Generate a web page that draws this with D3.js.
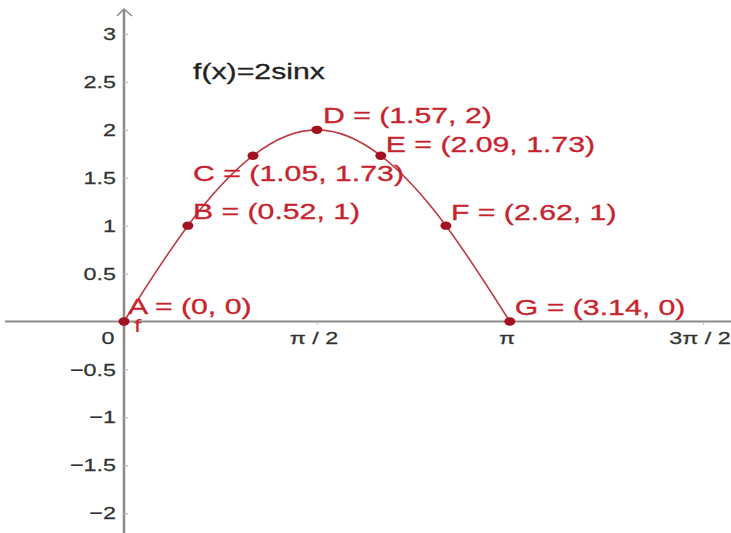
<!DOCTYPE html>
<html>
<head>
<meta charset="utf-8">
<script src="https://cdn.jsdelivr.net/npm/d3@7"></script>
<style>
  html, body { margin: 0; padding: 0; background: #fff; }
  svg { display: block; }
  text { font-family: "Liberation Sans", Arial, sans-serif; }
</style>
</head>
<body>
<script>
// Points on f(x) = 2 sin x
const pointNames = ["A", "B", "C", "D", "E", "F", "G"];
const pointX = [0, 0.52, 1.05, 1.57, 2.09, 2.62, 3.14];
const pointY = [0, 1, 1.73, 2, 1.73, 1, 0];

// Axis ticks
const yTicks = [-2, -1.5, -1, -0.5, 0.5, 1, 1.5, 2, 2.5, 3];
const xTickValues = [Math.PI / 2, Math.PI, 3 * Math.PI / 2];
const xTickLabels = ["π / 2", "π", "3π / 2"];

const functionLabel = "f(x)=2sinx";
const curveName = "f";

// ---- layout ----
const W = 731, H = 533;
const STRETCH = 1.375;          // horizontal text stretch
const axisColor = "#8c8c8c";
const pointColor = "#a3111f";
const labelColor = "#c8222c";
const curveColor = "#bb3c44";

// where each point's label sits relative to the point (px)
const labelOffset = {
  A: [4, -8], B: [5, -7], C: [-60, 25], D: [6, -7],
  E: [5, -4], F: [5, -6], G: [5, -7]
};

const svg = d3.select("body").append("svg")
  .attr("width", W).attr("height", H);

const x = d3.scaleLinear().domain([0, Math.PI]).range([124, 510]);
const y = d3.scaleLinear().domain([0, 3]).range([321.5, 34]);

function stretchedText(sel, px, py) {
  return sel.attr("transform", `translate(${px},${py}) scale(${STRETCH},1)`);
}

// axes lines
svg.append("line")
  .attr("x1", 5).attr("x2", W)
  .attr("y1", y(0)).attr("y2", y(0))
  .attr("stroke", axisColor).attr("stroke-width", 2);
svg.append("line")
  .attr("x1", x(0)).attr("x2", x(0))
  .attr("y1", 9).attr("y2", H)
  .attr("stroke", axisColor).attr("stroke-width", 2.6);
// arrow head on the y axis
svg.append("path")
  .attr("d", `M${x(0) - 7},${16} L${x(0)},${9} L${x(0) + 8},${16}`)
  .attr("fill", "none").attr("stroke", axisColor).attr("stroke-width", 1.6);

// y axis ticks and labels
const yAxis = d3.axisRight(y).tickValues(yTicks).tickSize(4).tickFormat("");
const yg = svg.append("g").attr("transform", `translate(${x(0)},0)`).call(yAxis);
yg.select(".domain").remove();
yg.selectAll(".tick line").attr("stroke", "#bbb").attr("stroke-width", 1.2);

const fmtY = d3.format("");
svg.append("g").selectAll("text")
  .data(yTicks).join("text")
  .each(function (d) { stretchedText(d3.select(this), 116, y(d)); })
  .attr("text-anchor", "end")
  .attr("dy", "0.36em")
  .attr("font-size", 17)
  .attr("fill", "#333").attr("stroke", "#333").attr("stroke-width", 0.25)
  .text(d => fmtY(d));

// origin label
stretchedText(svg.append("text"), 108, y(0) + 16)
  .attr("text-anchor", "middle").attr("dy", "0.36em")
  .attr("font-size", 17).attr("fill", "#333")
  .attr("stroke", "#333").attr("stroke-width", 0.25).text("0");

// x axis ticks and labels
const xAxis = d3.axisBottom(x).tickValues(xTickValues).tickSize(3).tickFormat("");
const xg = svg.append("g").attr("transform", `translate(0,${y(0)})`).call(xAxis);
xg.select(".domain").remove();
xg.selectAll(".tick line").attr("stroke", "#bbb").attr("stroke-width", 1.2);

svg.append("g").selectAll("text")
  .data(xTickValues).join("text")
  .each(function (d) { stretchedText(d3.select(this), x(d) - 3, y(0) + 16); })
  .attr("text-anchor", "middle")
  .attr("dy", "0.36em")
  .attr("font-size", 17)
  .attr("fill", "#333").attr("stroke", "#333").attr("stroke-width", 0.25)
  .text((d, i) => xTickLabels[i]);

// the curve through the points
const pts = pointX.map((v, i) => ({ name: pointNames[i], x: v, y: pointY[i] }));
const line = d3.line().x(d => x(d.x)).y(d => y(d.y)).curve(d3.curveNatural);
svg.append("path")
  .datum(pts)
  .attr("d", line)
  .attr("fill", "none")
  .attr("stroke", curveColor)
  .attr("stroke-width", 1.6);

// point markers
svg.append("g").selectAll("ellipse")
  .data(pts).join("ellipse")
  .attr("cx", d => x(d.x)).attr("cy", d => y(d.y))
  .attr("rx", 5.5).attr("ry", 4.2)
  .attr("fill", pointColor);

// point labels
svg.append("g").selectAll("text")
  .data(pts).join("text")
  .each(function (d) {
    const o = labelOffset[d.name];
    stretchedText(d3.select(this), x(d.x) + o[0], y(d.y) + o[1]);
  })
  .attr("font-size", 22)
  .attr("fill", labelColor).attr("stroke", labelColor).attr("stroke-width", 0.3)
  .text(d => `${d.name} = (${d.x}, ${d.y})`);

// curve name near the origin
stretchedText(svg.append("text"), x(0) + 10, y(0) + 10)
  .attr("font-size", 19).attr("fill", labelColor).text(curveName);

// function caption
stretchedText(svg.append("text"), 193, 79)
  .attr("font-size", 22).attr("fill", "#222")
  .attr("stroke", "#222").attr("stroke-width", 0.3).text(functionLabel);
</script>
</body>
</html>
